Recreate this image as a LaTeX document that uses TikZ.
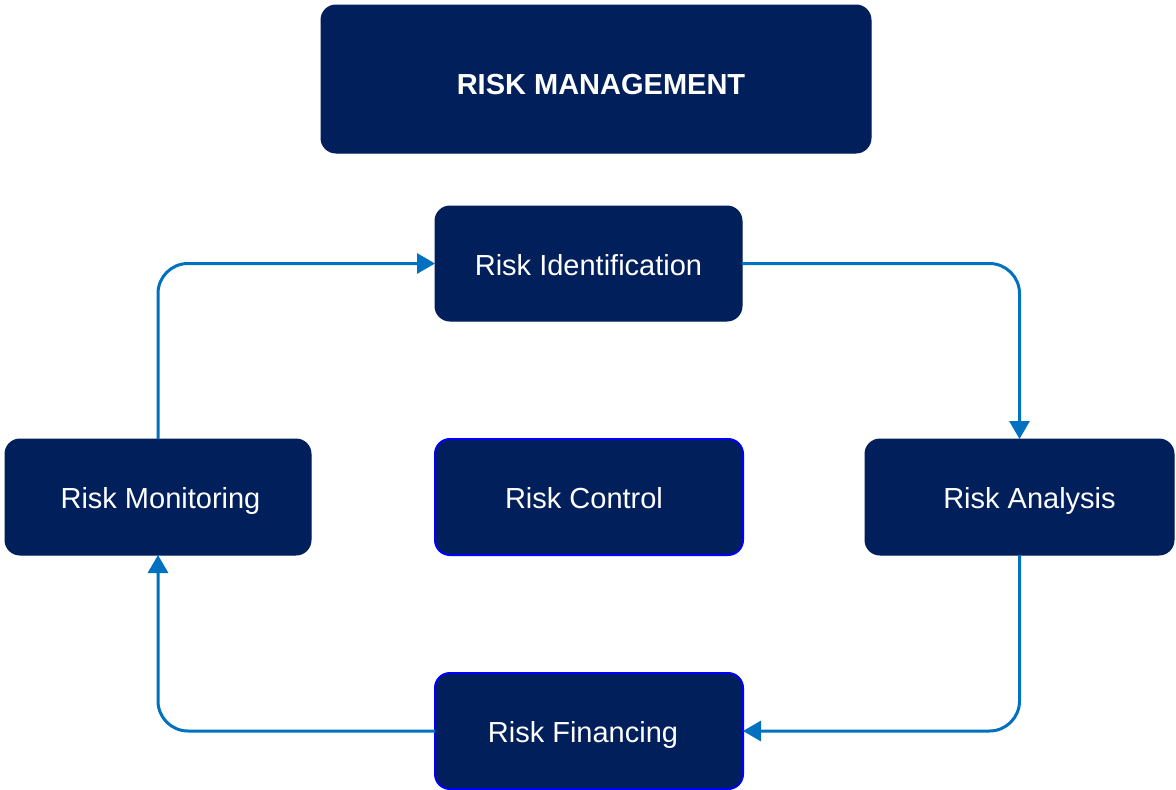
\documentclass[tikz,border=0pt]{standalone}
\usepackage{fontspec}
\setmainfont{Liberation Sans}
\usetikzlibrary{arrows.meta}
\definecolor{navy}{RGB}{0,31,91}
\definecolor{flow}{RGB}{0,112,192}
\definecolor{edgeblue}{RGB}{0,0,255}
\begin{document}
\begin{tikzpicture}[x=1pt,y=-1pt,
  box/.style={fill=navy,draw=navy,line width=1pt,rounded corners=15pt,inner sep=0pt,outer sep=0pt},
  bluebox/.style={box,draw=edgeblue,line width=2pt},
  txt/.style={text=white,font=\fontsize{29}{34}\selectfont,inner sep=0pt,anchor=base},
  flowline/.style={draw=flow,line width=3pt,rounded corners=30pt,-{Triangle[length=18pt,width=20pt]}}]
\useasboundingbox (0,0) rectangle (1176,790);
% boxes
\node[box,minimum width=550pt,minimum height=148pt] (title) at (596,79) {};
\node[box,minimum width=307pt,minimum height=115pt] (ri) at (588.5,263.5) {};
\node[box,minimum width=306pt,minimum height=116pt] (rm) at (158,497) {};
\node[bluebox,minimum width=308pt,minimum height=116pt] (rc) at (589,497) {};
\node[box,minimum width=309pt,minimum height=116pt] (ra) at (1019.5,497) {};
\node[bluebox,minimum width=308pt,minimum height=116pt] (rf) at (589,731) {};
% texts
\node[txt,font=\fontsize{29}{34}\selectfont\bfseries] (titletext) at (601,94) {RISK MANAGEMENT};
\node[txt] (ritext) at (588.5,275) {Risk Identification};
\node[txt] (rmtext) at (160.5,508) {Risk Monitoring};
\node[txt] (rctext) at (584,508) {Risk Control};
\node[txt] (ratext) at (1029.5,508) {Risk Analysis};
\node[txt] (rftext) at (583,742) {Risk Financing};
% connectors
\draw[flowline] (ri.east) -| (ra.north);
\draw[flowline] (ra.south) |- (rf.east);
\draw[flowline] (rf.west) -| (rm.south);
\draw[flowline] (rm.north) |- (ri.west);
\end{tikzpicture}
\end{document}
